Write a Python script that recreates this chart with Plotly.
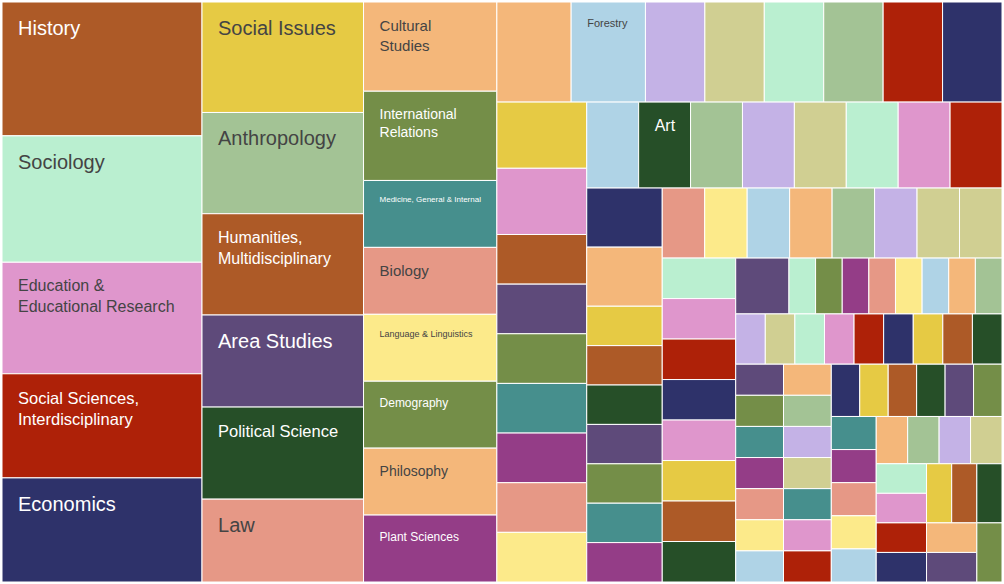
import plotly.graph_objects as go

# ---- data (layout order, largest first) ----
categories = [
    "History", "Sociology", "Education &\nEducational Research", "Social Sciences,\nInterdisciplinary", "Economics",
    "Social Issues", "Anthropology", "Humanities,\nMultidisciplinary", "Area Studies", "Political Science", "Law",
    "Cultural\nStudies", "International\nRelations", "Medicine, General & Internal", "Biology",
    "Language & Linguistics", "Demography", "Philosophy", "Plant Sciences",
    "", "Forestry", "", "", "", "", "", "",
    "", "", "", "", "", "", "", "", "",
    "", "Art", "", "", "", "", "", "",
] + [""] * 82

values = (
    [18, 17, 15, 14, 14]
    + [12, 11, 11, 10, 10, 9]
    + [8, 8, 6, 6, 6, 6, 6, 6]
    + [5, 5, 4, 4, 4, 4, 4, 4]
    + [4, 4, 3, 3, 3, 3, 3, 3, 3]
    + [3] * 8
    + [3, 3] + [2] * 7
    + [2] * 8
    + [2] * 8
    + [2] + [1] * 8
    + [1] * 9
    + [1] * 7 + [1] * 7 + [1] * 6 + [1] * 5 + [1] * 4 + [1] * 4 + [1] * 3 + [1] * 3
)

# ---- styles ----
P = dict(
    brown="#AD5A27", mint="#BAEFD0", pink="#DF96CC", red="#AE2108", navy="#2E326A",
    yellow="#E6CA44", sage="#A3C395", purple="#5E4A7A", dkgreen="#264F28", salmon="#E69886",
    lorange="#F4B77A", olive="#748E48", teal="#468F8D", lyellow="#FCEA8A", magenta="#943D87",
    lblue="#AFD3E6", lavender="#C4B2E6", khaki="#D0CF92",
)
color_names = (
    ["brown", "mint", "pink", "red", "navy"]
    + ["yellow", "sage", "brown", "purple", "dkgreen", "salmon"]
    + ["lorange", "olive", "teal", "salmon", "lyellow", "olive", "lorange", "magenta"]
    + ["lorange", "lblue", "lavender", "khaki", "mint", "sage", "red", "navy"]
    + ["yellow", "pink", "brown", "purple", "olive", "teal", "magenta", "salmon", "lyellow"]
    + ["lblue", "dkgreen", "sage", "lavender", "khaki", "mint", "pink", "red"]
    + ["navy", "lorange", "yellow", "brown", "dkgreen", "purple", "olive", "teal", "magenta"]
    + ["salmon", "lyellow", "lblue", "lorange", "sage", "lavender", "khaki", "khaki"]
    + ["mint", "pink", "red", "navy", "pink", "yellow", "brown", "dkgreen"]
    + ["purple", "mint", "olive", "magenta", "salmon", "lyellow", "lblue", "lorange", "sage"]
    + ["lavender", "khaki", "mint", "pink", "red", "navy", "yellow", "brown", "dkgreen"]
    + ["purple", "olive", "teal", "magenta", "salmon", "lyellow", "lblue"]
    + ["lorange", "sage", "lavender", "khaki", "teal", "pink", "red"]
    + ["navy", "yellow", "brown", "dkgreen", "purple", "olive"]
    + ["teal", "magenta", "salmon", "lyellow", "lblue"]
    + ["lorange", "sage", "lavender", "khaki"]
    + ["mint", "pink", "red", "navy"]
    + ["yellow", "brown", "dkgreen"]
    + ["lorange", "purple", "olive"]
)
colors = [P[c] for c in color_names]

label_sizes = {
    "History": 20, "Sociology": 20, "Education &\nEducational Research": 16,
    "Social Sciences,\nInterdisciplinary": 16.5, "Economics": 20, "Social Issues": 20,
    "Anthropology": 20, "Humanities,\nMultidisciplinary": 16, "Area Studies": 20,
    "Political Science": 16.5, "Law": 20, "Cultural\nStudies": 15,
    "International\nRelations": 14, "Medicine, General & Internal": 8, "Biology": 15,
    "Language & Linguistics": 9, "Demography": 12, "Philosophy": 14,
    "Plant Sciences": 12, "Forestry": 11, "Art": 16,
}

INSET_X = 13.0   # extra horizontal text inset beyond plotly's own 3px
INSET_Y = 12.0   # extra vertical text inset
SP = 0.2778      # width of a no-break space in em


def tile_text(label, fs):
    if not label:
        return ""
    lines = label.split("\n")
    s_big = fs + INSET_Y / 0.905
    rem = INSET_X - SP * s_big
    f_small = rem / (2 * SP)
    first = (f'<span style="font-size:{s_big:.2f}px">\u00a0</span>'
             f'<span style="font-size:{f_small:.2f}px">\u00a0\u00a0</span>' + lines[0])
    rest = [f'<span style="font-size:{INSET_X / (3 * SP):.2f}px">\u00a0\u00a0\u00a0</span>' + l
            for l in lines[1:]]
    return "<br>".join([first] + rest)


sizes = [label_sizes.get(c, 10) for c in categories]
texts = [tile_text(c, s) for c, s in zip(categories, sizes)]
ids = [f"cat{i}" for i in range(len(values))]
hover_labels = [c.replace("\n", " ") if c else f"Category {i + 1}" for i, c in enumerate(categories)]

fig = go.Figure(go.Treemap(
    ids=ids,
    labels=hover_labels,
    parents=[""] * len(values),
    values=values,
    text=texts,
    textinfo="text",
    textposition="top left",
    textfont=dict(size=sizes, family="Liberation Sans, Arial, sans-serif"),
    sort=False,
    tiling=dict(packing="squarify", squarifyratio=1.6180339887, pad=0),
    marker=dict(colors=colors, line=dict(color="white", width=1), pad=dict(t=0, l=0, r=0, b=0)),
    pathbar=dict(visible=False),
    hovertemplate="%{label}: %{value}<extra></extra>",
))
fig.update_layout(
    width=1004, height=584,
    margin=dict(l=2, r=2, t=2, b=2),
    paper_bgcolor="white",
    font=dict(family="Liberation Sans, Arial, sans-serif"),
)
fig.write_html("out.html")
